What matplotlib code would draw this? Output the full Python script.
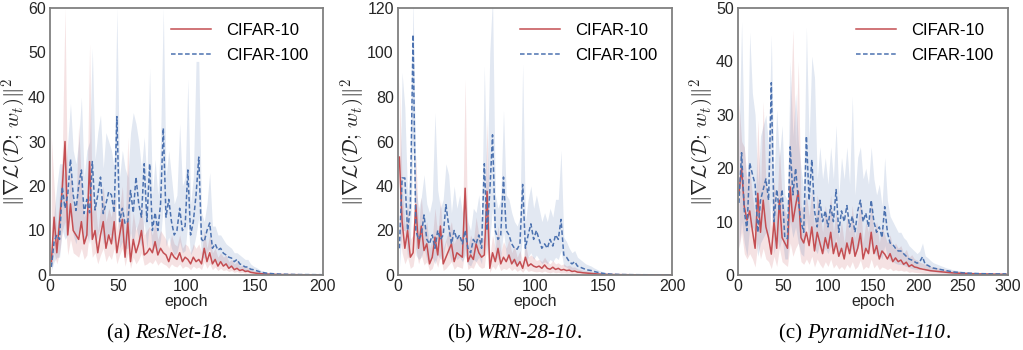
import numpy as np
import matplotlib
matplotlib.use("Agg")
import matplotlib.pyplot as plt

# ---------------- data ----------------
panels = ["(a) ", "(b) ", "(c) "]
models = ["ResNet-18", "WRN-28-10", "PyramidNet-110"]
series_names = ["CIFAR-10", "CIFAR-100"]
epoch_step = [2, 2, 3]
x_max = [200, 200, 300]
y_max = [60, 120, 50]
y_step = [10, 20, 10]

# Panel (a) ResNet-18, epochs 1,3,...,199
A_C10 = [3, 13, 5, 12, 19.5, 30, 9, 16, 10, 9,
         8, 12, 7, 9, 25.5, 8, 10, 5, 9, 12,
         6, 9, 7, 12, 5, 9, 12.5, 4, 12, 3,
         8, 5, 7, 10, 4.5, 5, 6, 5, 7.5, 4.5,
         6, 5, 4.5, 3, 5, 4, 3.5, 5, 3, 4,
         3.5, 2.5, 4, 3, 3.5, 2.5, 6, 3, 5, 2.5,
         3.5, 2, 3, 2, 2.5, 1.5, 2, 1.2, 1.5, 1,
         1.2, 0.8, 0.9, 0.6, 0.5, 0.4, 0.35, 0.3, 0.25, 0.2,
         0.18, 0.15, 0.13, 0.12, 0.1, 0.1, 0.09, 0.08, 0.08, 0.07,
         0.07, 0.06, 0.06, 0.05, 0.05, 0.05, 0.04, 0.04, 0.04, 0.04]
A_C10_HI = [31, 20, 10, 18, 27, 60, 15, 24, 16, 15,
            34, 20, 13, 15, 52, 14, 17, 10, 15, 20,
            12, 15, 13, 19, 10, 15, 20, 9, 31, 8,
            14, 10, 12, 16, 9, 10, 11, 9, 12, 8,
            10, 9, 8, 6, 9, 7, 6.5, 9, 6, 7,
            6.5, 5, 7, 6, 7, 5, 10, 6, 9, 5,
            6, 4, 5, 4, 4.5, 3, 3.5, 2.5, 3, 2,
            2.2, 1.6, 1.7, 1.2, 1, 0.8, 0.7, 0.6, 0.5, 0.4,
            0.35, 0.3, 0.25, 0.22, 0.2, 0.18, 0.16, 0.15, 0.14, 0.13,
            0.12, 0.11, 0.1, 0.1, 0.09, 0.09, 0.08, 0.08, 0.08, 0.08]
A_C10_LO = [1.5, 5, 2.5, 5, 10, 12, 4.5, 8, 5, 4.5,
            4, 6, 3.5, 4.5, 10, 4, 5, 2.5, 4.5, 6,
            3, 4.5, 3.5, 6, 2.5, 4.5, 6, 2, 5, 1.5,
            4, 2.5, 3.5, 5, 2.2, 2.5, 3, 2.5, 3.5, 2.2,
            3, 2.5, 2.2, 1.5, 2.5, 2, 1.8, 2.5, 1.5, 2,
            1.8, 1.2, 2, 1.5, 1.8, 1.2, 3, 1.5, 2.5, 1.2,
            1.8, 1, 1.5, 1, 1.2, 0.8, 1, 0.6, 0.8, 0.5,
            0.6, 0.4, 0.45, 0.3, 0.25, 0.2, 0.18, 0.15, 0.12, 0.1,
            0.09, 0.08, 0.07, 0.06, 0.05, 0.05, 0.04, 0.04, 0.04, 0.03,
            0.03, 0.03, 0.03, 0.02, 0.02, 0.02, 0.02, 0.02, 0.02, 0.02]
A_C100 = [1.8, 7.5, 9, 8, 19.8, 15, 18, 26, 18, 14.5,
          20, 23.6, 13.8, 17, 14, 25.5, 14.6, 18, 22, 13.8,
          16, 18.7, 18, 14, 35.6, 12, 15, 11.5, 12, 19,
          14, 22, 16, 13, 25, 12, 25, 10, 14, 10,
          16, 33, 13, 17, 12, 9, 10, 15, 10, 11,
          23.6, 9, 12, 18, 26.5, 8, 7.5, 10, 11.7, 6,
          7, 5.6, 6, 4.9, 4.5, 4, 3.8, 3, 3.5, 2.5,
          2.2, 1.8, 1.8, 1.3, 1.2, 1, 0.8, 0.6, 0.5, 0.4,
          0.35, 0.3, 0.25, 0.22, 0.2, 0.18, 0.16, 0.15, 0.13, 0.12,
          0.11, 0.1, 0.1, 0.09, 0.09, 0.08, 0.08, 0.07, 0.07, 0.07]
A_C100_HI = [4, 14, 20, 25, 25, 22, 30, 38.6, 28, 25,
             30, 40, 22, 28, 30, 51, 26, 32, 36, 24,
             32, 30, 28, 24, 60, 22, 28, 24, 22, 32,
             36.5, 34, 30, 24, 31, 22, 46.5, 18, 26, 18,
             30, 60, 22, 28, 22, 16, 18, 34, 20, 22,
             44, 16, 22, 48, 48, 14, 12, 16, 23, 11,
             11, 9, 9, 8, 7, 6.5, 6, 5, 5, 4.5,
             4, 3.5, 3.5, 2.5, 2, 1.7, 1.3, 1, 0.8, 0.6,
             0.5, 0.45, 0.4, 0.35, 0.3, 0.28, 0.25, 0.22, 0.2, 0.18,
             0.16, 0.15, 0.14, 0.13, 0.12, 0.12, 0.11, 0.1, 0.1, 0.1]
A_C100_LO = [1, 3, 4, 4, 10, 8, 9, 14, 9, 7,
             10, 12, 7, 9, 7, 13, 7, 9, 11, 7,
             8, 9, 9, 7, 18, 6, 7.5, 6, 6, 9.5,
             7, 11, 8, 6.5, 12, 6, 12, 5, 7, 5,
             8, 16, 6.5, 8.5, 6, 4.5, 5, 7.5, 5, 5.5,
             12, 4.5, 6, 9, 13, 4, 3.8, 5, 6, 3,
             3.5, 2.8, 3, 2.4, 2.2, 2, 1.9, 1.5, 1.7, 1.2,
             1.1, 0.9, 0.9, 0.6, 0.6, 0.5, 0.4, 0.3, 0.25, 0.2,
             0.18, 0.15, 0.12, 0.11, 0.1, 0.09, 0.08, 0.07, 0.07, 0.06,
             0.05, 0.05, 0.05, 0.04, 0.04, 0.04, 0.04, 0.03, 0.03, 0.03]

# Panel (b) WRN-28-10, epochs 1,3,...,199
B_C10 = [53, 24, 12, 20, 8, 10, 31.6, 12, 22, 11,
         14, 5, 8, 17, 9, 22, 5, 8, 11, 14,
         6, 10, 9, 8, 39, 6, 9, 7, 14, 10,
         8, 9, 37.6, 3, 10, 6, 12, 5, 8, 6,
         9, 5, 7, 4, 6, 3, 8, 4, 5, 4,
         3.5, 4, 3, 4.5, 3, 2.6, 3.5, 2.5, 3, 2.2,
         2.5, 2, 2.2, 1.6, 1.8, 1.3, 1.2, 1, 0.9, 0.8,
         0.7, 0.6, 0.5, 0.4, 0.35, 0.3, 0.25, 0.22, 0.2, 0.18,
         0.16, 0.15, 0.14, 0.13, 0.12, 0.11, 0.1, 0.1, 0.1, 0.1,
         0.09, 0.09, 0.09, 0.08, 0.08, 0.08, 0.08, 0.08, 0.08, 0.08]
B_C10_HI = [87, 40, 22, 32, 16, 18, 54, 22, 35, 20,
            24, 12, 16, 30, 18, 34, 12, 16, 20, 24,
            14, 18, 17, 16, 88, 13, 18, 15, 26, 18,
            16, 17, 70, 8, 18, 12, 22, 10, 15, 12,
            16, 10, 13, 8, 11, 6, 14, 8, 9, 8,
            6.5, 7, 6, 8, 6, 5, 6.5, 5, 5.5, 4.5,
            5, 4, 4.5, 3.5, 3.6, 2.8, 2.5, 2.1, 1.9, 1.7,
            1.5, 1.3, 1.1, 0.9, 0.8, 0.7, 0.6, 0.5, 0.45, 0.4,
            0.36, 0.33, 0.3, 0.28, 0.26, 0.24, 0.22, 0.2, 0.2, 0.2,
            0.19, 0.18, 0.18, 0.17, 0.17, 0.16, 0.16, 0.16, 0.16, 0.16]
B_C10_LO = [20, 10, 5, 8, 3, 4, 12, 5, 9, 4.5,
            6, 2, 3, 7, 3.5, 9, 2, 3, 4.5, 6,
            2.5, 4, 3.5, 3, 12, 2.5, 3.5, 3, 6, 4,
            3, 3.5, 14, 1.2, 4, 2.5, 5, 2, 3, 2.5,
            3.5, 2, 3, 1.6, 2.5, 1.2, 3, 1.6, 2, 1.6,
            1.4, 1.6, 1.2, 1.8, 1.2, 1, 1.4, 1, 1.2, 0.9,
            1, 0.8, 0.9, 0.6, 0.7, 0.5, 0.5, 0.4, 0.35, 0.3,
            0.28, 0.24, 0.2, 0.16, 0.14, 0.12, 0.1, 0.09, 0.08, 0.07,
            0.06, 0.06, 0.06, 0.06, 0.06, 0.06, 0.06, 0.06, 0.06, 0.06,
            0.05, 0.05, 0.05, 0.05, 0.05, 0.05, 0.05, 0.05, 0.05, 0.05]
B_C100 = [12, 43.6, 43.6, 20, 30, 108, 20, 16, 18, 27,
          16, 14, 18, 12, 20, 16, 18, 31.6, 22, 14,
          20, 16, 18, 14, 20, 12, 10, 16, 14, 18,
          12, 50, 20, 37, 63, 20, 16, 18, 44, 20,
          18, 14, 12, 11.6, 14, 40.7, 12, 18, 23, 16,
          20, 16, 12, 14, 12, 16, 13, 18, 16, 25,
          9, 8, 6, 5, 6, 4, 3.5, 3, 2.5, 2.2,
          2, 1.6, 1.3, 1, 0.8, 0.6, 0.5, 0.4, 0.35, 0.3,
          0.25, 0.22, 0.2, 0.18, 0.16, 0.15, 0.14, 0.13, 0.12, 0.12,
          0.11, 0.11, 0.1, 0.1, 0.1, 0.1, 0.1, 0.1, 0.1, 0.1]
B_C100_HI = [30, 91, 75, 35, 50, 125, 40, 30, 35, 45,
             32, 28, 34, 73, 38, 30, 34, 50, 45, 28,
             40, 30, 36, 28, 38, 24, 20, 30, 28, 36,
             24, 94, 40, 100, 125, 36, 30, 34, 74, 36,
             34, 28, 24, 22, 26, 95, 24, 34, 40, 30,
             36, 30, 24, 28, 24, 30, 26, 34, 34, 56,
             17, 15, 12, 10, 11, 8, 7, 6, 5, 4.5,
             4, 3.2, 2.6, 2, 1.6, 1.2, 1, 0.8, 0.7, 0.6,
             0.5, 0.45, 0.4, 0.36, 0.33, 0.3, 0.28, 0.26, 0.24, 0.24,
             0.22, 0.22, 0.2, 0.2, 0.2, 0.2, 0.2, 0.2, 0.2, 0.2]
B_C100_LO = [3, 20, 20, 8, 14, 60, 9, 7, 8, 12,
             7, 6, 8, 5, 9, 7, 8, 15, 10, 6,
             9, 7, 8, 6, 9, 5, 4, 7, 6, 8,
             5, 22, 9, 16, 30, 9, 7, 8, 20, 9,
             8, 6, 5, 5, 6, 18, 5, 8, 10, 7,
             9, 7, 5, 6, 5, 7, 6, 8, 7, 11,
             4, 3.5, 2.6, 2.2, 2.6, 1.7, 1.5, 1.3, 1.1, 1,
             0.9, 0.7, 0.55, 0.45, 0.35, 0.28, 0.22, 0.18, 0.15, 0.13,
             0.11, 0.1, 0.09, 0.08, 0.07, 0.07, 0.06, 0.06, 0.05, 0.05,
             0.05, 0.05, 0.05, 0.05, 0.05, 0.05, 0.05, 0.05, 0.05, 0.05]

# Panel (c) PyramidNet-110, epochs 1,4,...,298
C_C10 = [15.3, 20, 12.8, 10.3, 12, 8.3, 5, 15.3, 8, 14,
         9, 7, 3.9, 10, 5, 14, 7, 6, 5, 16.5,
         10, 13, 15.7, 7, 6, 8, 5.5, 9, 4.5, 8,
         6, 4, 7, 5, 8, 4, 6, 3.5, 5, 3,
         6, 4, 7, 3.5, 5, 7.8, 3, 5, 4, 8,
         4, 5.5, 3, 4.5, 3.9, 3, 4, 2.5, 3.2, 2.5,
         2.8, 2, 2.4, 1.6, 1.9, 1.5, 1.4, 1.2, 1.1, 1,
         0.9, 0.8, 0.75, 0.7, 0.65, 0.6, 0.55, 0.5, 0.45, 0.4,
         0.38, 0.35, 0.32, 0.3, 0.28, 0.26, 0.25, 0.24, 0.22, 0.2,
         0.2, 0.19, 0.18, 0.17, 0.16, 0.15, 0.15, 0.14, 0.14, 0.14]
C_C10_HI = [32.5, 25, 24, 18, 20, 15, 11, 29, 16, 32.5,
            17, 14, 9, 18, 11, 24, 14, 12, 11, 30,
            46, 24, 40, 13, 12, 15, 11, 16, 9, 15,
            12, 8, 13, 10, 15, 8, 12, 7, 10, 6,
            11, 8, 13, 7, 10, 14, 6, 10, 8, 14,
            8, 10, 6, 9, 7.5, 6, 7.5, 5, 6, 5,
            5.5, 4, 4.8, 3.3, 3.8, 3, 2.8, 2.4, 2.2, 2,
            1.8, 1.6, 1.5, 1.4, 1.3, 1.2, 1.1, 1, 0.9, 0.8,
            0.75, 0.7, 0.65, 0.6, 0.56, 0.52, 0.5, 0.48, 0.44, 0.4,
            0.4, 0.38, 0.36, 0.34, 0.32, 0.3, 0.3, 0.28, 0.28, 0.28]
C_C10_LO = [5, 8, 4, 3, 4, 3, 1.5, 6, 3, 5,
            3, 2.5, 1.2, 3.5, 1.6, 5, 2.5, 2, 1.6, 6,
            3.5, 5, 6, 2.5, 2, 3, 2, 3.5, 1.5, 3,
            2, 1.3, 2.5, 1.6, 3, 1.3, 2, 1.1, 1.6, 1,
            2, 1.3, 2.5, 1.1, 1.6, 2.8, 1, 1.6, 1.3, 3,
            1.3, 2, 1, 1.5, 1.3, 1, 1.3, 0.8, 1, 0.8,
            0.9, 0.7, 0.8, 0.5, 0.6, 0.5, 0.45, 0.4, 0.35, 0.3,
            0.28, 0.25, 0.23, 0.21, 0.2, 0.18, 0.16, 0.15, 0.13, 0.12,
            0.11, 0.1, 0.1, 0.09, 0.09, 0.08, 0.08, 0.07, 0.07, 0.06,
            0.06, 0.06, 0.06, 0.06, 0.06, 0.06, 0.06, 0.06, 0.06, 0.06]
C_C100 = [13.5, 22.9, 12, 8.3, 21, 18.9, 17, 8, 14, 16,
          18, 14, 36, 10, 16, 12, 16, 7, 6.8, 24,
          15, 20, 14, 10, 8, 26, 14, 21.6, 12, 9,
          14, 10, 12, 9, 13, 10, 16, 8, 12, 10,
          13, 9, 11, 8, 12, 14, 10, 11.6, 9, 14,
          10, 8, 9, 7, 12.8, 8, 6, 5.7, 5, 4.5,
          4.5, 4, 3.5, 3, 2.8, 2.5, 2.2, 2.5, 3.4, 2,
          1.8, 1.5, 1.3, 1.2, 1.1, 1, 0.9, 0.8, 0.7, 0.6,
          0.55, 0.5, 0.45, 0.4, 0.38, 0.35, 0.32, 0.3, 0.28, 0.26,
          0.25, 0.24, 0.23, 0.22, 0.21, 0.2, 0.2, 0.2, 0.2, 0.2]
C_C100_HI = [25, 47.5, 24, 16, 45.5, 34, 30, 17, 26, 28,
             30, 24, 45, 18, 31, 22, 28, 15, 14, 40,
             26, 34, 25, 20, 16, 46.5, 25, 41, 37, 18,
             24, 18, 22, 17, 24, 18, 28, 15, 22, 18,
             24, 17, 33.5, 15, 22, 24, 18, 20, 17, 24,
             18, 15, 17, 13, 22, 14, 11, 10, 9, 8,
             8, 7, 6.5, 5.5, 5, 4.5, 4, 4.5, 6, 3.6,
             3.2, 2.7, 2.3, 2.1, 1.9, 1.7, 1.5, 1.3, 1.2, 1,
             0.9, 0.85, 0.8, 0.7, 0.65, 0.6, 0.55, 0.5, 0.48, 0.45,
             0.42, 0.4, 0.4, 0.38, 0.37, 0.36, 0.35, 0.35, 0.35, 0.35]
C_C100_LO = [5, 10, 6, 3.5, 9, 9, 8, 3.5, 6, 7,
             8, 6, 14, 4, 7, 5, 7, 3, 3, 10,
             7, 9, 6, 4, 3.5, 11, 6, 9, 5, 4,
             6, 4, 5, 4, 5.5, 4, 7, 3.5, 5, 4,
             6, 4, 5, 3.5, 5, 6, 4.5, 5, 4, 6,
             4.5, 3.5, 4, 3, 5.5, 3.5, 2.7, 2.5, 2.2, 2,
             2, 1.8, 1.6, 1.4, 1.2, 1.1, 1, 1.1, 1.5, 0.9,
             0.8, 0.7, 0.6, 0.55, 0.5, 0.45, 0.4, 0.36, 0.32, 0.28,
             0.25, 0.22, 0.2, 0.18, 0.17, 0.16, 0.15, 0.14, 0.13, 0.12,
             0.12, 0.11, 0.11, 0.1, 0.1, 0.1, 0.1, 0.1, 0.1, 0.1]

DATA = [
    [(A_C10, A_C10_LO, A_C10_HI), (A_C100, A_C100_LO, A_C100_HI)],
    [(B_C10, B_C10_LO, B_C10_HI), (B_C100, B_C100_LO, B_C100_HI)],
    [(C_C10, C_C10_LO, C_C10_HI), (C_C100, C_C100_LO, C_C100_HI)],
]

# ---------------- style ----------------
plt.rcParams['font.family'] = ['Liberation Sans', 'DejaVu Sans']
plt.rcParams['mathtext.fontset'] = 'cm'
RED = '#c44e52'
BLUE = '#4c72b0'
SPINE = '#808080'

fig = plt.figure(figsize=(10.23, 3.5), dpi=100)
lefts = [50 / 1023, 398 / 1023, 738 / 1023]
widths = [273 / 1023, 274 / 1023, 270 / 1023]
bottom = 1 - 275 / 350
height = (275 - 8) / 350
caption_centers = [167 / 1023, 515 / 1023, 865 / 1023]

ylabel = r'$\Vert\nabla\mathcal{L}(\mathcal{D};\,w_t)\Vert^2$'

cap_parts = []
for k in range(3):
    ax = fig.add_axes([lefts[k], bottom, widths[k], height])
    step = epoch_step[k]
    handles = []
    for (mean, lo, hi), color in zip(DATA[k], [RED, BLUE]):
        xl = np.arange(len(lo)) * step + 1
        n = min(len(lo), len(hi))
        ax.fill_between(xl[:n], np.asarray(lo[:n]), np.asarray(hi[:n]),
                        color=color, alpha=0.16, linewidth=0)
    for (mean, lo, hi), color, ls, name in zip(DATA[k], [RED, BLUE], ['-', '--'], series_names):
        xm = np.arange(len(mean)) * step + 1
        if ls == '--':
            h, = ax.plot(xm, mean, color=color, lw=1.1, ls=ls, dashes=(3, 1.6), label=name)
        else:
            h, = ax.plot(xm, mean, color=color, lw=1.1, ls=ls, label=name)
        handles.append(h)
    ax.set_xlim(0, x_max[k])
    ax.set_ylim(0, y_max[k])
    ax.set_xticks(np.arange(0, x_max[k] + 1, 50))
    ax.set_yticks(np.arange(0, y_max[k] + 1, y_step[k]))
    ax.tick_params(length=0, labelsize=11.5, pad=3, colors='#262626')
    for s in ax.spines.values():
        s.set_color(SPINE)
        s.set_linewidth(1.3)
    ax.set_xlabel('epoch', fontsize=11.5, labelpad=0, color='#262626')
    ax.set_ylabel(ylabel, fontsize=15, labelpad=0, color='#262626')
    ax.legend(handles=handles, loc='upper right', frameon=False, fontsize=12,
              handlelength=2.4, handletextpad=0.9, borderaxespad=0.5,
              labelspacing=0.6)
    # caption made of an upright and an italic part
    t1 = fig.text(0, 12 / 350, panels[k], fontsize=15, family='Liberation Serif',
                  ha='left', va='baseline')
    t2 = ax.annotate(models[k], xy=(1, 0), xycoords=t1, fontsize=15,
                     family='Liberation Serif', style='italic',
                     ha='left', va='bottom', annotation_clip=False)
    t3 = ax.annotate('.', xy=(1, 0), xycoords=t2, fontsize=15,
                     family='Liberation Serif', ha='left', va='bottom',
                     annotation_clip=False)
    cap_parts.append((t1, t2, t3, caption_centers[k]))

fig.canvas.draw()
r = fig.canvas.get_renderer()
for t1, t2, t3, c in cap_parts:
    w = sum(t.get_window_extent(r).width for t in (t1, t2, t3)) / fig.bbox.width
    t1.set_x(c - w / 2)

fig.savefig('out.png', dpi=100)
